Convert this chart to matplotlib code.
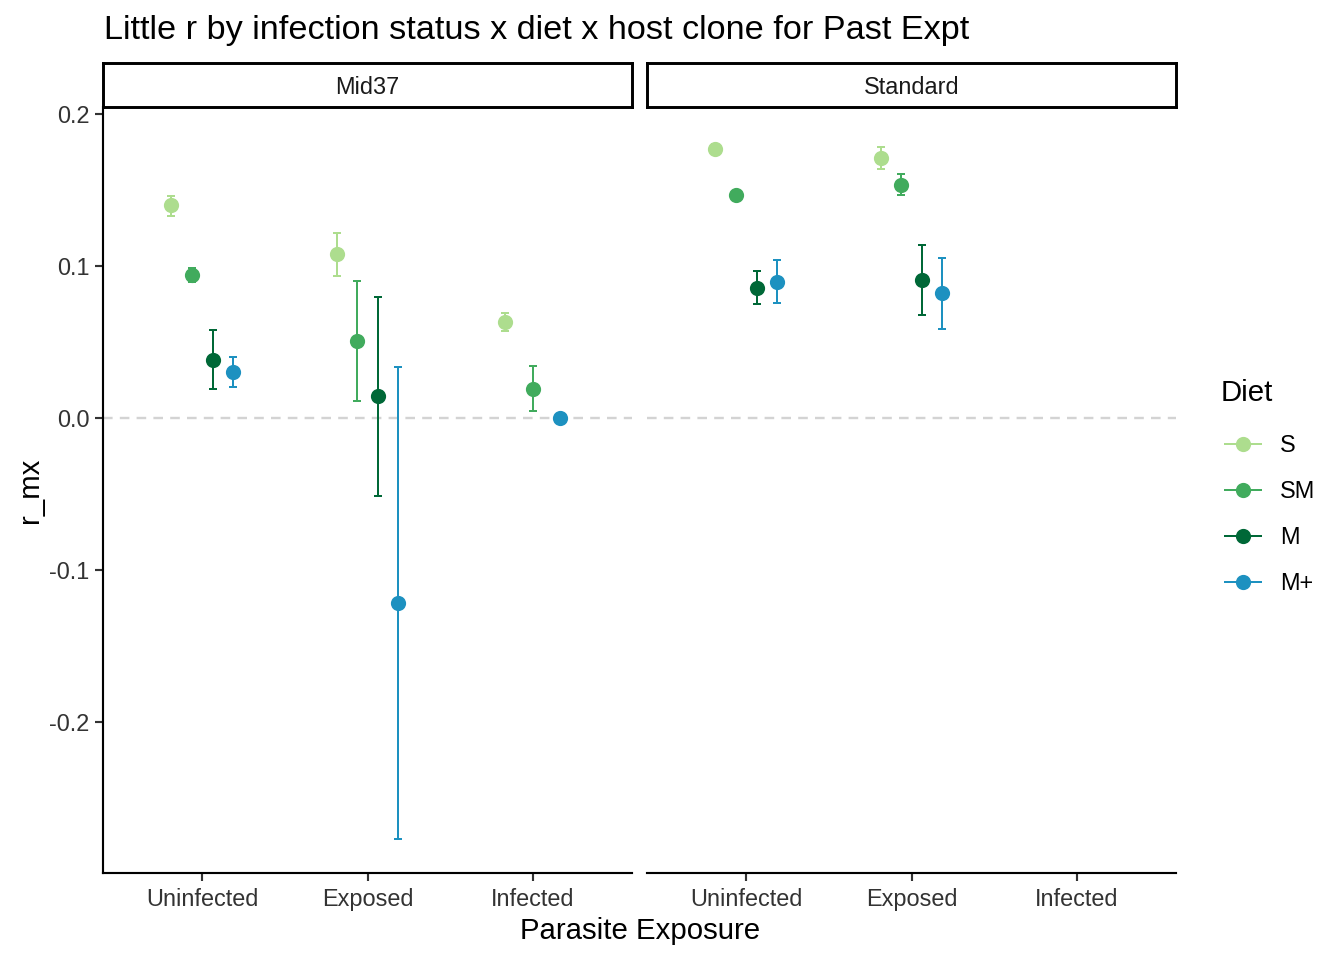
import matplotlib.pyplot as plt
import numpy as np

plt.rcParams['font.family'] = ['Liberation Sans', 'DejaVu Sans']

# data
exposure = ['Uninfected', 'Exposed', 'Infected']
diets = ['S', 'SM', 'M', 'M+']
diet_colors = ['#addd8e', '#41ab5d', '#006837', '#1d91c0']
panels = ['Mid37', 'Standard']

nan = np.nan
# rows = exposure, cols = diet
mid37_mean = [[0.1399, 0.0939, 0.0379, 0.0300],
              [0.1077, 0.0504, 0.0145, -0.1219],
              [0.0629, 0.0189, nan, 0.0000]]
mid37_lo = [[0.1329, 0.0895, 0.0193, 0.0206],
            [0.0934, 0.0112, -0.0513, -0.2768],
            [0.0572, 0.0048, nan, -0.0008]]
mid37_hi = [[0.1463, 0.0989, 0.0581, 0.0401],
            [0.1217, 0.0901, 0.0796, 0.0338],
            [0.0693, 0.0344, nan, 0.0008]]

std_mean = [[0.1770, 0.1465, 0.0853, 0.0893],
            [0.1711, 0.1531, 0.0906, 0.0820],
            [nan, nan, nan, nan]]
std_lo = [[0.1737, 0.1455, 0.0752, 0.0759],
          [0.1638, 0.1467, 0.0678, 0.0586],
          [nan, nan, nan, nan]]
std_hi = [[0.1803, 0.1475, 0.0969, 0.1039],
          [0.1785, 0.1607, 0.1138, 0.1055],
          [nan, nan, nan, nan]]

panel_data = [(mid37_mean, mid37_lo, mid37_hi), (std_mean, std_lo, std_hi)]

W, H, DPI = 1344, 960, 192
fig = plt.figure(figsize=(W / DPI, H / DPI), dpi=DPI)

def box(x0, y0, x1, y1):
    return [x0 / W, 1 - y1 / H, (x1 - x0) / W, (y1 - y0) / H]

panel_x = [(103, 632), (647, 1176)]
ylim = (-0.2993, 0.2046)
dodge = 0.5
elw = 0.75

for p, (name, (x0, x1)) in enumerate(zip(panels, panel_x)):
    ax = fig.add_axes(box(x0, 107, x1, 873))
    means, los, his = [np.array(a) for a in panel_data[p]]
    ax.axhline(0, color='#d3d3d3', lw=0.9, ls=(0, (4, 3)), zorder=1)
    for i in range(len(exposure)):
        present = [j for j in range(len(diets)) if not np.isnan(means[i, j])]
        n = len(present)
        for k, j in enumerate(present):
            xpos = i + 1 - dodge / 2 + dodge / n * (k + 0.5)
            m = means[i, j]
            ax.errorbar([xpos], [m], yerr=[[m - los[i, j]], [his[i, j] - m]],
                        fmt='o', color=diet_colors[j], ms=4.7, elinewidth=elw,
                        capsize=1.5, capthick=elw, zorder=3)
    ax.set_xlim(0.4, 3.6)
    ax.set_ylim(*ylim)
    ax.set_xticks([1, 2, 3])
    ax.set_xticklabels(exposure)
    for s in ['top', 'right']:
        ax.spines[s].set_visible(False)
    ax.spines['bottom'].set_linewidth(0.8)
    ax.tick_params(axis='x', length=3, width=0.8, labelsize=8.8, colors='#333333', pad=2.6)
    if p == 0:
        ax.spines['left'].set_linewidth(0.8)
        ax.set_yticks([-0.2, -0.1, 0.0, 0.1, 0.2])
        ax.set_yticklabels(['-0.2', '-0.1', '0.0', '0.1', '0.2'])
        ax.tick_params(axis='y', length=3, width=0.8, labelsize=8.8, colors='#333333', pad=2)
    else:
        ax.spines['left'].set_visible(False)
        ax.set_yticks([])

    # facet strip
    sax = fig.add_axes(box(x0, 63, x1, 107))
    sax.set_xticks([])
    sax.set_yticks([])
    for s in sax.spines.values():
        s.set_linewidth(1.1)
    sax.text(0.5, 0.45, name, ha='center', va='center', fontsize=8.8, color='#1a1a1a',
             transform=sax.transAxes)

fig.text(104 / W, 1 - 30 / H, 'Little r by infection status x diet x host clone for Past Expt',
         fontsize=12.85, ha='left', va='center')
fig.text(640 / W, 1 - 931 / H, 'Parasite Exposure', fontsize=11, ha='center', va='center')
fig.text(30 / W, 1 - 490 / H, 'r_mx', fontsize=11, ha='center', va='center', rotation=90)

# legend
fig.text(1221 / W, 1 - 393 / H, 'Diet', fontsize=11, ha='left', va='center')
for j, d in enumerate(diets):
    yk = 444 + 46 * j
    lax = fig.add_axes(box(1222, yk - 10, 1264, yk + 10))
    lax.set_xlim(0, 1)
    lax.set_ylim(-1, 1)
    lax.axis('off')
    lax.plot([0.06, 0.94], [0, 0], color=diet_colors[j], lw=elw)
    lax.plot([0.5], [0], 'o', color=diet_colors[j], ms=4.7)
    fig.text(1280 / W, 1 - (yk + 1) / H, d, fontsize=8.8, ha='left', va='center')

fig.savefig('out.png', dpi=DPI, facecolor='white')
